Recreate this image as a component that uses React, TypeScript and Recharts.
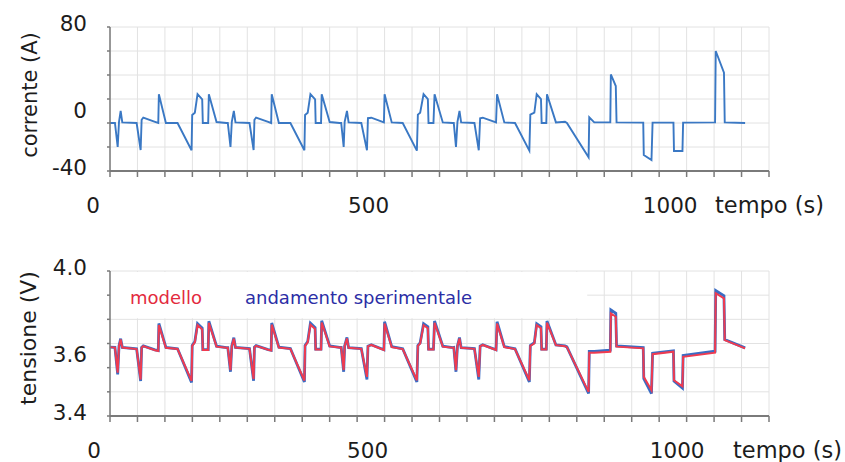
import { CartesianGrid, Line, LineChart, ReferenceArea, XAxis, YAxis } from "recharts";

// tempo (s) dei punti, condiviso da corrente e tensione
const tempo = [
  // ciclo 1
  0, 9, 14, 16.4, 19.4, 22.4, 48.5, 55.8, 57.6, 60.6, 82, 87.9, 89, 101.8, 123, 148.5, 149.7, 154.5,
  159.4, 167.9, 169, 178.8, 180, 194, 212,
  // ciclo 2
  214.5, 219.4, 221.8, 225.5, 228.5, 254, 261.5, 263, 266, 288, 293.5, 294.5, 307.5, 328.5, 354, 355.2,
  360, 365, 373.5, 374.5, 384.3, 385.5, 400, 418,
  // ciclo 3
  421, 425.5, 427.3, 431.5, 434.5, 457.6, 467.9, 469.7, 475.8, 498.8, 500, 513, 533, 558.8, 560.6, 564.8,
  571, 578.8, 580, 589, 591, 606, 624,
  // ciclo 4
  626, 630, 632.7, 636.4, 639.4, 663.6, 671.5, 674, 678.8, 703, 704.8, 718, 737.5, 763.6, 765.4, 772.7,
  777, 784.8, 786, 794.5, 795.7,
  // gradini finali
  812, 828.5, 832, 871.5, 872.7, 881.8, 911, 912, 921, 922.4, 971, 972, 986, 988, 1026, 1027, 1042.4,
  1043.6, 1101.8, 1103, 1118, 1119.4, 1156.5,
];

// corrente (A)
const corrente = [
  0, 0, -20, 1, 10, 0.5, 0, -22.5, 2.7, 4.4, 1, 0, 24, 0, 0, -22.7, 6.7, 8.6, 24, 19.7, 0, 0, 24, 0.8, 0,
  0, -20, 1, 10, 0.5, 0, -22.5, 2.7, 4.4, 1, 0, 24, 0, 0, -22.7, 6.7, 8.6, 24, 19.7, 0, 0, 24, 0.8, 0,
  0, -20, 1, 10, 0.5, 0, -22.7, 4, 4.4, 0.5, 24, 0.5, 0, -23, 7, 8.6, 24, 20, 0, 0, 24, 0.5, 0,
  0, -20, 1, 10, 0.5, 0, -22.7, 4, 4.4, 0.5, 24, 0.5, 0, -23, 7, 8.6, 24, 20, 0, 0, 24,
  0.5, 1, 0, -28.6, 4.7, 0.5, 0.5, 40.5, 30.8, 0.5, 0.3, -26.7, -30.8, 0.3, 0.3, -23.3, -23.3, 0.3, 0.5,
  60, 42, 0.5, 0,
];

// tensione (V) - modello
const tensioneModello = [
  3.685, 3.683, 3.579, 3.69, 3.717, 3.683, 3.677, 3.551, 3.683, 3.689, 3.672, 3.669, 3.776, 3.682, 3.677,
  3.545, 3.69, 3.705, 3.776, 3.758, 3.673, 3.673, 3.786, 3.687, 3.682,
  3.682, 3.59, 3.69, 3.72, 3.683, 3.678, 3.553, 3.684, 3.69, 3.674, 3.671, 3.778, 3.683, 3.678, 3.547,
  3.69, 3.705, 3.778, 3.76, 3.675, 3.675, 3.787, 3.688, 3.683,
  3.683, 3.59, 3.69, 3.721, 3.682, 3.678, 3.562, 3.688, 3.694, 3.673, 3.783, 3.685, 3.677, 3.548, 3.69,
  3.7, 3.776, 3.763, 3.675, 3.675, 3.786, 3.687, 3.682,
  3.683, 3.59, 3.69, 3.721, 3.682, 3.678, 3.562, 3.688, 3.694, 3.673, 3.783, 3.685, 3.677, 3.548, 3.69,
  3.7, 3.776, 3.763, 3.675, 3.675, 3.786,
  3.693, 3.689, 3.685, 3.5, 3.662, 3.662, 3.666, 3.825, 3.811, 3.687, 3.68, 3.562, 3.507, 3.656, 3.666,
  3.548, 3.523, 3.645, 3.662, 3.908, 3.887, 3.714, 3.68,
];

// tensione (V) - andamento sperimentale
const tensioneSperimentale = [
  3.685, 3.684, 3.572, 3.69, 3.72, 3.684, 3.678, 3.545, 3.684, 3.69, 3.674, 3.671, 3.783, 3.684, 3.678,
  3.539, 3.692, 3.708, 3.782, 3.764, 3.675, 3.675, 3.792, 3.689, 3.683,
  3.683, 3.583, 3.69, 3.724, 3.684, 3.679, 3.546, 3.685, 3.691, 3.675, 3.672, 3.785, 3.685, 3.679, 3.541,
  3.692, 3.708, 3.784, 3.766, 3.677, 3.677, 3.794, 3.69, 3.684,
  3.684, 3.583, 3.69, 3.725, 3.683, 3.679, 3.551, 3.689, 3.695, 3.674, 3.79, 3.687, 3.678, 3.541, 3.692,
  3.703, 3.782, 3.769, 3.677, 3.677, 3.793, 3.689, 3.683,
  3.684, 3.583, 3.69, 3.725, 3.683, 3.679, 3.551, 3.689, 3.695, 3.674, 3.79, 3.687, 3.678, 3.541, 3.692,
  3.703, 3.782, 3.769, 3.677, 3.677, 3.793,
  3.694, 3.69, 3.686, 3.493, 3.667, 3.667, 3.672, 3.839, 3.825, 3.69, 3.683, 3.555, 3.493, 3.66, 3.67,
  3.545, 3.516, 3.65, 3.668, 3.919, 3.897, 3.716, 3.682,
];

const tickTempo = [
  0, 50, 100, 150, 200, 250, 300, 350, 400, 450, 500, 550, 600, 650, 700, 750, 800, 850, 900, 950, 1000,
  1050, 1100, 1150, 1200,
];
const etichetteTempo = [0, 500, 1000];
const tickCorrente = [-40, -20, 0, 20, 40, 60, 80];
const etichetteCorrente = [80, 0, -40];
const tickTensione = [3.4, 3.5, 3.6, 3.7, 3.8, 3.9, 4.0];
const etichetteTensione = [4.0, 3.6, 3.4];

const datiCorrente = tempo.map((t, i) => ({ t, i: corrente[i] }));
const datiTensione = tempo.map((t, i) => ({
  t,
  modello: tensioneModello[i],
  sperimentale: tensioneSperimentale[i],
}));

const FONT = "'DejaVu Sans', Verdana, sans-serif";
const INK = "#1c1c1c";
const AXIS = "#7a7a7a";
const GRID = "#e2e2e2";

function makeXTick(shift: Record<number, number>) {
  return (p: any) => {
    const v = p.payload.value;
    if (!etichetteTempo.includes(v)) return <g />;
    return (
      <text x={p.x + (shift[v] ?? 0)} y={p.y + 26} textAnchor="middle" dominantBaseline="central"
        fontSize={21.5} fontFamily={FONT} fill={INK}>
        {v}
      </text>
    );
  };
}

function makeYTick(labels: number[], fmt: (v: number) => string, mid: number) {
  return (p: any) => {
    const v = p.payload.value;
    if (!labels.some((l) => Math.abs(l - v) < 1e-6)) return <g />;
    const dy = Math.abs(v - mid) < 1e-6 ? -13 : -4;
    return (
      <text x={p.x - 18} y={p.y + dy} textAnchor="end" dominantBaseline="central"
        fontSize={21.5} fontFamily={FONT} fill={INK}>
        {fmt(v)}
      </text>
    );
  };
}

export default function App() {
  return (
    <div style={{ position: "absolute", left: 0, top: 0, width: 845, height: 462, background: "#fff" }}>
      <div style={{ position: "absolute", left: 0, top: 0 }}>
        <LineChart width={845} height={232} data={datiCorrente}
          margin={{ top: 27, right: 76, bottom: 21, left: 50 }}>
          <CartesianGrid stroke={GRID} strokeWidth={1} />
          <XAxis dataKey="t" type="number" domain={[0, 1200]} ticks={tickTempo} interval={0}
            height={40} tickSize={6} tickLine={{ stroke: AXIS, strokeWidth: 1.5 }}
            axisLine={{ stroke: AXIS, strokeWidth: 2 }} tick={makeXTick({ 0: -17, 500: -16, 1000: 11 })} />
          <XAxis xAxisId="top" orientation="top" type="number" domain={[0, 1200]} height={0}
            tick={false} tickLine={false} axisLine={{ stroke: "#6e6e6e", strokeWidth: 2 }} />
          <YAxis type="number" domain={[-40, 80]} ticks={tickCorrente} interval={0} width={60}
            tickSize={3} tickLine={{ stroke: AXIS, strokeWidth: 1.5 }}
            axisLine={{ stroke: AXIS, strokeWidth: 1.5 }}
            tick={makeYTick(etichetteCorrente, (v) => String(v), 0)} />
          <YAxis yAxisId="r" orientation="right" type="number" domain={[-40, 80]} width={0}
            tick={false} tickLine={false} axisLine={{ stroke: "#a4a4a4", strokeWidth: 1.5 }} />
          <Line dataKey="i" type="linear" stroke="#3a78c4" strokeWidth={1.9} dot={false}
            isAnimationActive={false} />
        </LineChart>
      </div>
      <div style={{ position: "absolute", left: 0, top: 232 }}>
        <LineChart width={845} height={230} data={datiTensione}
          margin={{ top: 39, right: 76, bottom: 6, left: 50 }}>
          <CartesianGrid stroke={GRID} strokeWidth={1} />
          <ReferenceArea x1={0} x2={869} y1={3.805} y2={3.996} fill="#fff" fillOpacity={1} stroke="none" />
          <XAxis dataKey="t" type="number" domain={[0, 1200]} ticks={tickTempo} interval={0}
            height={40} tickSize={6} tickLine={{ stroke: AXIS, strokeWidth: 1.5 }}
            axisLine={{ stroke: AXIS, strokeWidth: 2 }} tick={makeXTick({ 0: -16, 500: -17, 1000: 18 })} />
          <XAxis xAxisId="top" orientation="top" type="number" domain={[0, 1200]} height={0}
            tick={false} tickLine={false} axisLine={{ stroke: "#6e6e6e", strokeWidth: 2 }} />
          <YAxis type="number" domain={[3.4, 4.0]} ticks={tickTensione} interval={0} width={60}
            tickSize={3} tickLine={{ stroke: AXIS, strokeWidth: 1.5 }}
            axisLine={{ stroke: AXIS, strokeWidth: 1.5 }}
            tick={makeYTick(etichetteTensione, (v) => v.toFixed(1), 3.6)} />
          <YAxis yAxisId="r" orientation="right" type="number" domain={[3.4, 4.0]} width={0}
            tick={false} tickLine={false} axisLine={{ stroke: "#a4a4a4", strokeWidth: 1.5 }} />
          <Line dataKey="sperimentale" type="linear" stroke="#3a6cc4" strokeWidth={2.8} dot={false}
            isAnimationActive={false} />
          <Line dataKey="modello" type="linear" stroke="#ef3b50" strokeWidth={2} dot={false}
            isAnimationActive={false} />
        </LineChart>
      </div>
      <svg width={845} height={462} style={{ position: "absolute", left: 0, top: 0, pointerEvents: "none" }}
        fontFamily={FONT}>
        <text x={30} y={95} transform="rotate(-90 30 95)" textAnchor="middle" dominantBaseline="central"
          fontSize={21} fill={INK}>corrente (A)</text>
        <text x={715} y={205} dominantBaseline="central" fontSize={22.5} fill={INK}>tempo (s)</text>
        <text x={28} y={338} transform="rotate(-90 28 338)" textAnchor="middle" dominantBaseline="central"
          fontSize={22} fill={INK}>tensione (V)</text>
        <text x={733} y={450} dominantBaseline="central" fontSize={22.5} fill={INK}>tempo (s)</text>
        <text x={130} y={297} dominantBaseline="central" fontSize={18} fill="#e32a3e">modello</text>
        <text x={245} y={297} dominantBaseline="central" fontSize={18} fill="#2c2ea6">andamento sperimentale</text>
      </svg>
    </div>
  );
}
